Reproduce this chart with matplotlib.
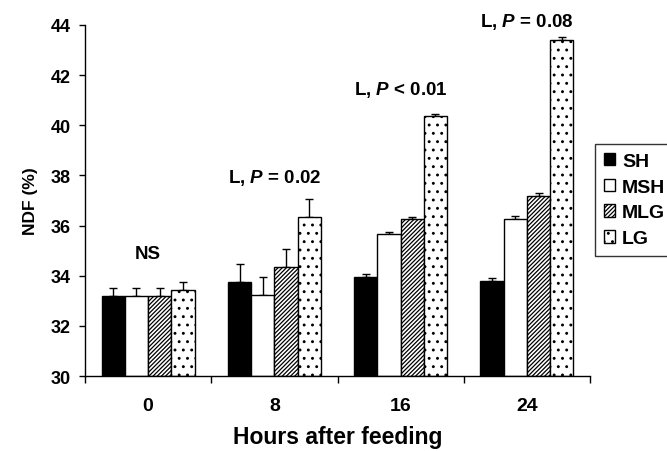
import numpy as np
import matplotlib
matplotlib.use('Agg')
import matplotlib.pyplot as plt

# 数据：各处理在不同时间点的NDF (%)
hours = ['0', '8', '16', '24']
groups = ['SH', 'MSH', 'MLG', 'LG']
sh = [33.2, 33.75, 33.95, 33.8]
msh = [33.2, 33.25, 35.65, 36.27]
mlg = [33.2, 34.35, 36.26, 37.18]
lg = [33.45, 36.35, 40.36, 43.4]
sh_err = [0.3, 0.7, 0.1, 0.1]
msh_err = [0.3, 0.7, 0.1, 0.12]
mlg_err = [0.3, 0.7, 0.1, 0.12]
lg_err = [0.3, 0.7, 0.1, 0.12]
notes = ['NS', 'L, $\\mathit{P}$ = 0.02', 'L, $\\mathit{P}$ < 0.01', 'L, $\\mathit{P}$ = 0.08']
note_y = [34.9, 37.92, 41.45, 44.16]

plt.rcParams['font.family'] = ['Liberation Sans', 'DejaVu Sans']
plt.rcParams['font.weight'] = 'bold'
plt.rcParams['mathtext.fontset'] = 'custom'
plt.rcParams['mathtext.it'] = 'Liberation Sans:italic:bold'
plt.rcParams['mathtext.rm'] = 'Liberation Sans:bold'
plt.rcParams['hatch.linewidth'] = 0.9

fig = plt.figure(figsize=(6.67, 4.52), dpi=100)
ax = fig.add_axes([0.1274, 0.1659, 0.7572, 0.7766])

x = np.arange(len(hours))
w = 0.184
vals = [sh, msh, mlg, lg]
errs = [sh_err, msh_err, mlg_err, lg_err]
faces = ['black', 'white', 'white', 'white']
hatches = [None, None, '////////', '..']

for i in range(4):
    pos = x + (i - 1.5) * w
    ax.bar(pos, np.array(vals[i]) - 30, w, bottom=30, color=faces[i],
           edgecolor='black', linewidth=1, hatch=hatches[i], label=groups[i], zorder=2)
    ax.errorbar(pos, vals[i], yerr=[np.zeros(4), errs[i]], fmt='none',
                ecolor='black', elinewidth=1, capsize=3, capthick=1, zorder=1)

for i in range(4):
    ax.text(x[i], note_y[i], notes[i], ha='center', va='center',
            fontsize=13.5, fontweight='bold', clip_on=False)

ax.set_xlim(-0.5, 3.5)
ax.set_ylim(30, 44)
ax.set_yticks(np.arange(30, 45, 2))
ax.set_xticks(x)
ax.set_xticklabels(hours)
ax.set_xticks(np.arange(-0.5, 4, 1), minor=True)
ax.tick_params(axis='x', which='major', length=0, pad=15, labelsize=14)
ax.tick_params(axis='x', which='minor', length=5, width=1)
ax.tick_params(axis='y', length=4, width=1, labelsize=13, pad=6)
for s in ['top', 'right']:
    ax.spines[s].set_visible(False)
ax.spines['left'].set_linewidth(1)
ax.spines['bottom'].set_linewidth(1)
ax.set_ylabel('NDF (%)', fontsize=12.5, fontweight='bold', labelpad=9)
ax.set_xlabel('Hours after feeding', fontsize=16.5, fontweight='bold', labelpad=8)

leg = fig.legend(loc='upper left', bbox_to_anchor=(0.892, 0.679), fontsize=14,
                 frameon=True, fancybox=False, edgecolor='black',
                 handlelength=0.6, handleheight=0.6, handletextpad=0.35,
                 borderpad=0.45, labelspacing=0.45, borderaxespad=0)
leg.get_frame().set_linewidth(1)

plt.savefig('out.png', dpi=100)
plt.close()
